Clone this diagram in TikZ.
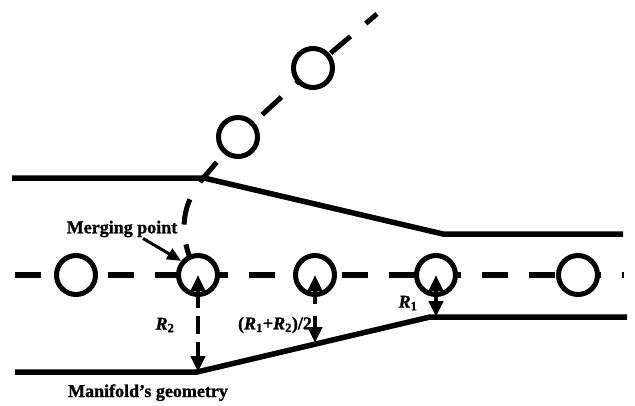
\documentclass[tikz,border=0pt]{standalone}
\usepackage{fontspec}
\setmainfont{Liberation Serif}[BoldFeatures={FakeBold=1.2},BoldItalicFeatures={FakeBold=1.2}]
\usetikzlibrary{arrows.meta}
\begin{document}
\begin{tikzpicture}[x=1pt,y=-1pt,
  wall/.style={line width=5.5pt},
  axisline/.style={line width=5.5pt,dash pattern=on 26pt off 20.7pt},
  branch/.style={line width=5pt,dash pattern=on 26pt off 20pt,dash phase=39pt},
  ball/.style={circle,draw,line width=5pt,fill=white,minimum size=39pt,inner sep=0pt},
  rarrow/.style={line width=4pt},
  tip/.tip={Triangle[length=16pt,width=14pt]},
  pointer/.style={line width=3pt,-{Triangle[length=14pt,width=12pt]}},
  lab/.style={font=\bfseries\fontsize{18}{20}\selectfont,inner sep=0pt},
]
\useasboundingbox (0,0) rectangle (635,405);
% walls
\draw[wall] (12,178) -- (204,178) -- (443,234) -- (623,234);
\draw[wall] (15,372) -- (197,372) -- (430,317) -- (627,317);
% centre line
\coordinate (axl) at (15,275);
\coordinate (axr) at (624,275);
\draw[axisline] (axl) -- (axr);
% circles on axis
\node[ball] (c1) at (76,275) {};
\coordinate (c2p) at (198,275);
\coordinate (c6p) at (238,137);
\coordinate (c7p) at (313,68);
\coordinate (bend) at (205,176);
\coordinate (bend end) at (377,14);
\draw[branch] (c2p) .. controls (174,232) and (184,200) .. (bend) -- (c6p) -- (c7p) -- (bend end);
\node[ball] (c2) at (c2p) {};
\node[ball] (c3) at (315,275) {};
\node[ball] (c4) at (436,275) {};
\node[ball] (c5) at (578,275) {};
\node[ball] (c6) at (c6p) {};
\node[ball] (c7) at (c7p) {};
% radius arrows
\coordinate (w2) at (198,372);
\coordinate (w3) at (315,343);
\coordinate (w4) at (436,317);
\draw[rarrow,dash pattern=on 18pt off 8pt,{tip}-{tip}] (c2.center) -- (w2);
\draw[rarrow,dash pattern=on 14pt off 12pt,{tip}-{tip}] (c3.center) -- (w3);
\draw[rarrow,{tip}-{tip}] (c4.center) -- (w4);
% labels
\node[lab] (mp) at (122,229) {Merging point};
\draw[pointer] ([xshift=21pt,yshift=-1pt]mp.south) -- (c2.140);
\node[lab,anchor=base] (mg) at (148,397) {Manifold’s geometry};
\node[lab] (r2) at (165,325) {\itshape R\textsubscript{\upshape 2}};
\node[lab] (rm) at (275,325) {(\textit{R}\textsubscript{1}+\textit{R}\textsubscript{2})/2};
\node[lab] (r1) at (408,303) {\itshape R\textsubscript{\upshape 1}};
\end{tikzpicture}
\end{document}
